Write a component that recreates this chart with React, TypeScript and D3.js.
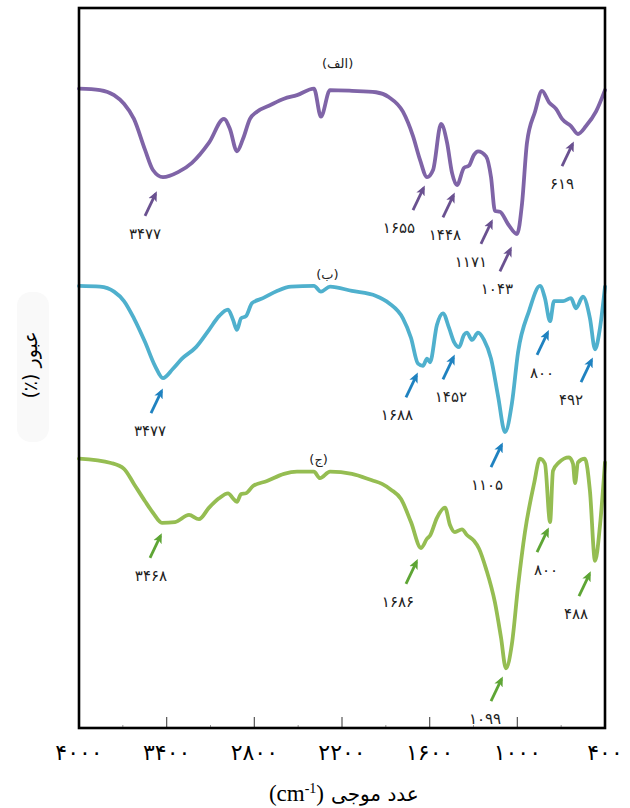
import * as d3 from 'd3';

// wavenumber (cm-1) / transmittance (a.u., stacked)
const wnA = [4000, 3856, 3760, 3692, 3624, 3548, 3494, 3425, 3322, 3227, 3110, 3008, 2967, 2919, 2878, 2830, 2782, 2693, 2597, 2508, 2392, 2344, 2282, 2132, 1967, 1878, 1783, 1714, 1666, 1618, 1577, 1522, 1481, 1447, 1413, 1365, 1331, 1297, 1269, 1214, 1180, 1153, 1119, 1064, 1002, 968, 934, 879, 831, 783, 735, 694, 633, 585, 530, 462, 400];
const tA = [88.8, 88.6, 87.9, 86.7, 84.6, 80.3, 77.5, 76.5, 77.2, 78.5, 81.3, 84.6, 83.2, 80.1, 81.8, 84.6, 85.6, 86.5, 87.4, 87.9, 88.8, 84.9, 88.6, 88.5, 88.3, 87.6, 85.6, 82.2, 78.9, 76.5, 77.5, 83.9, 81.3, 77.1, 75.4, 77.8, 78.1, 79.6, 80.1, 79.4, 76.5, 71.8, 71.7, 70.0, 68.6, 72.8, 81.3, 85.6, 88.5, 86.9, 86.0, 84.6, 83.6, 82.5, 83.6, 85.6, 88.6];

const wnB = [4000, 3856, 3760, 3692, 3624, 3548, 3480, 3425, 3357, 3295, 3199, 3110, 3042, 2980, 2946, 2919, 2891, 2857, 2816, 2741, 2645, 2549, 2392, 2344, 2282, 2132, 1967, 1878, 1783, 1728, 1680, 1646, 1618, 1598, 1550, 1509, 1468, 1433, 1399, 1365, 1345, 1310, 1269, 1228, 1180, 1132, 1084, 1037, 995, 920, 845, 811, 776, 749, 687, 633, 599, 551, 503, 468, 434, 400];
const tB = [61.4, 61.3, 60.6, 59.3, 56.9, 53.6, 50.3, 48.6, 49.9, 51.3, 52.9, 55.3, 57.2, 58.1, 56.7, 55.3, 56.9, 57.2, 59.0, 59.7, 60.7, 61.3, 61.4, 60.6, 61.3, 60.7, 60.0, 59.0, 56.9, 54.2, 50.6, 50.3, 51.3, 50.8, 56.0, 57.6, 55.6, 53.6, 52.9, 54.6, 54.9, 53.9, 54.9, 53.9, 51.3, 46.1, 41.1, 45.1, 52.2, 57.9, 61.4, 59.7, 56.5, 59.3, 59.3, 59.7, 58.3, 59.9, 56.9, 52.6, 55.6, 61.3];

const wnC = [4000, 3781, 3692, 3624, 3548, 3494, 3432, 3343, 3247, 3179, 3110, 3042, 2980, 2946, 2919, 2891, 2857, 2809, 2713, 2597, 2508, 2392, 2351, 2282, 2132, 1995, 1926, 1865, 1796, 1728, 1659, 1618, 1598, 1550, 1495, 1461, 1427, 1379, 1345, 1297, 1262, 1214, 1153, 1112, 1078, 1037, 995, 948, 886, 845, 811, 776, 756, 715, 646, 619, 605, 585, 537, 503, 468, 434, 400];
const tC = [37.4, 36.8, 36.0, 33.9, 31.5, 29.9, 28.5, 28.6, 29.6, 29.0, 30.6, 31.9, 32.6, 31.9, 31.4, 32.5, 32.6, 33.6, 34.3, 35.3, 35.6, 35.6, 34.7, 35.6, 35.3, 34.4, 33.9, 33.1, 31.8, 28.6, 25.0, 26.3, 26.7, 29.2, 30.6, 28.2, 27.2, 27.6, 26.8, 26.0, 24.9, 22.1, 17.4, 12.6, 8.3, 11.7, 19.7, 27.2, 33.9, 37.4, 36.7, 28.6, 35.7, 36.9, 37.6, 36.7, 34.0, 36.9, 37.4, 32.9, 23.2, 28.2, 36.9];

const seriesNames = ['(الف)', '(ب)', '(ج)'];
const seriesNameWn = [2230, 2300, 2360];
const seriesNameT = [92.3, 63.1, 37.3];

// peak annotations: label, arrow head wavenumber, arrow head transmittance
const peaksA = [['۳۴۷۷', 3466, 74.6], ['۱۶۵۵', 1632, 75.4], ['۱۴۴۸', 1427, 74.4], ['۱۱۷۱', 1167, 70.7], ['۱۰۴۳', 1037, 66.9], ['۶۱۹', 612, 81.5]];
const peaksB = [['۳۴۷۷', 3425, 47.2], ['۱۶۸۸', 1680, 49.4], ['۱۴۵۲', 1427, 51.9], ['۱۱۰۵', 1098, 39.7], ['۸۰۰', 783, 55.3], ['۴۹۲', 482, 51.5]];
const peaksC = [['۳۴۶۸', 3432, 27.1], ['۱۶۸۶', 1680, 23.5], ['۱۰۹۹', 1098, 7.2], ['۸۰۰', 783, 27.9], ['۴۸۸', 496, 21.8]];
// horizontal label nudge (px) relative to the arrow
const nudgeA = [0, -14, 2, -10, -3, 0];
const nudgeB = [-1, -9, 8, -4, 5, -10];
const nudgeC = [1, -8, -6, 9, -3];

const majorTicks = [4000, 3400, 2800, 2200, 1600, 1000, 400];
const minorTicks = [3700, 3100, 2500, 1900, 1300, 700];
const tickLabels = ['۴۰۰۰', '۳۴۰۰', '۲۸۰۰', '۲۲۰۰', '۱۶۰۰', '۱۰۰۰', '۴۰۰'];

const W = 630;
const H = 808;
const left = 79, right = 605, top = 8, bottom = 728;

const x = d3.scaleLinear().domain([4000, 400]).range([left, right]);
const y = d3.scaleLinear().domain([0, 100]).range([bottom, top]);

const line = d3.line<[number, number]>()
  .x(d => x(d[0]))
  .y(d => y(d[1]))
  .curve(d3.curveMonotoneX);

const series = [
  { wn: wnA, t: tA, color: '#7f64a7', arrow: '#6a5190', peaks: peaksA, nudge: nudgeA },
  { wn: wnB, t: tB, color: '#4fb0cd', arrow: '#1f82c0', peaks: peaksB, nudge: nudgeB },
  { wn: wnC, t: tC, color: '#95bd52', arrow: '#5ea535', peaks: peaksC, nudge: nudgeC },
];

const digitFont = '"DejaVu Sans", sans-serif';

export default function App() {
  return (
    <svg width={W} height={H} style={{ position: 'absolute', left: 0, top: 0, background: '#fff' }}>
      <defs>
        {series.map((s, i) => (
          <marker key={i} id={`head${i}`} viewBox="0 0 10 10" refX="7" refY="5"
            markerWidth="3.6" markerHeight="3.6" orient="auto-start-reverse">
            <path d="M0,0.5 L10,5 L0,9.5 L2.5,5 Z" fill={s.arrow} />
          </marker>
        ))}
      </defs>

      {/* faint label backdrop for y title */}
      <rect x={17} y={292} width={32} height={150} rx={14} fill="#f9f9f9" />

      {/* spectra */}
      {series.map((s, i) => (
        <path key={i} d={line(s.wn.map((w, j) => [w, s.t[j]]) as [number, number][]) ?? ''}
          fill="none" stroke={s.color} strokeWidth={3.8} strokeLinejoin="round" strokeLinecap="round" />
      ))}

      {/* series names */}
      {seriesNames.map((n, i) => (
        <text key={n} x={x(seriesNameWn[i])} y={y(seriesNameT[i]) + 5} textAnchor="middle"
          fontFamily={digitFont} fontSize={13} fill="#222">{n}</text>
      ))}

      {/* peak arrows and labels */}
      {series.map((s, i) => s.peaks.map((p, j) => {
        const hx = x(p[1] as number);
        const hy = y(p[2] as number);
        return (
          <g key={`${i}-${j}`}>
            <line x1={hx - 12} y1={hy + 25} x2={hx - 1.5} y2={hy + 3}
              stroke={s.arrow} strokeWidth={2.8} markerEnd={`url(#head${i})`} />
            <text x={hx - 12 + s.nudge[j]} y={hy + 48} textAnchor="middle"
              fontFamily={digitFont} fontSize={15} fill="#222">{p[0]}</text>
          </g>
        );
      }))}

      {/* ticks */}
      {majorTicks.slice(1, -1).map(t => (
        <line key={t} x1={x(t)} x2={x(t)} y1={bottom} y2={bottom - 11} stroke="#555" strokeWidth={1.2} />
      ))}
      {minorTicks.map(t => (
        <line key={t} x1={x(t)} x2={x(t)} y1={bottom} y2={bottom - 3} stroke="#999" strokeWidth={1} />
      ))}

      {/* frame */}
      <rect x={left} y={top} width={right - left} height={bottom - top} fill="none" stroke="#000" strokeWidth={2.6} />

      {/* tick labels */}
      {majorTicks.map((t, i) => (
        <text key={t} x={x(t)} y={760} textAnchor="middle" fontFamily={digitFont} fontSize={22} fill="#000">
          {tickLabels[i]}
        </text>
      ))}

      {/* axis titles */}
      <text x={331} y={801} textAnchor="start" fontFamily={digitFont} fontSize={20} fill="#000">عدد موجی</text>
      <text x={324} y={801} textAnchor="end" fontFamily={'"Liberation Serif", serif'} fontSize={23} fill="#000">
        (cm<tspan dy={-8} fontSize={14}>-1</tspan><tspan dy={8}>)</tspan>
      </text>
      <text transform="translate(37,365) rotate(-90)" textAnchor="middle" direction="rtl"
        fontFamily={digitFont} fontSize={19} fill="#000">
        عبور (٪)
      </text>
    </svg>
  );
}
